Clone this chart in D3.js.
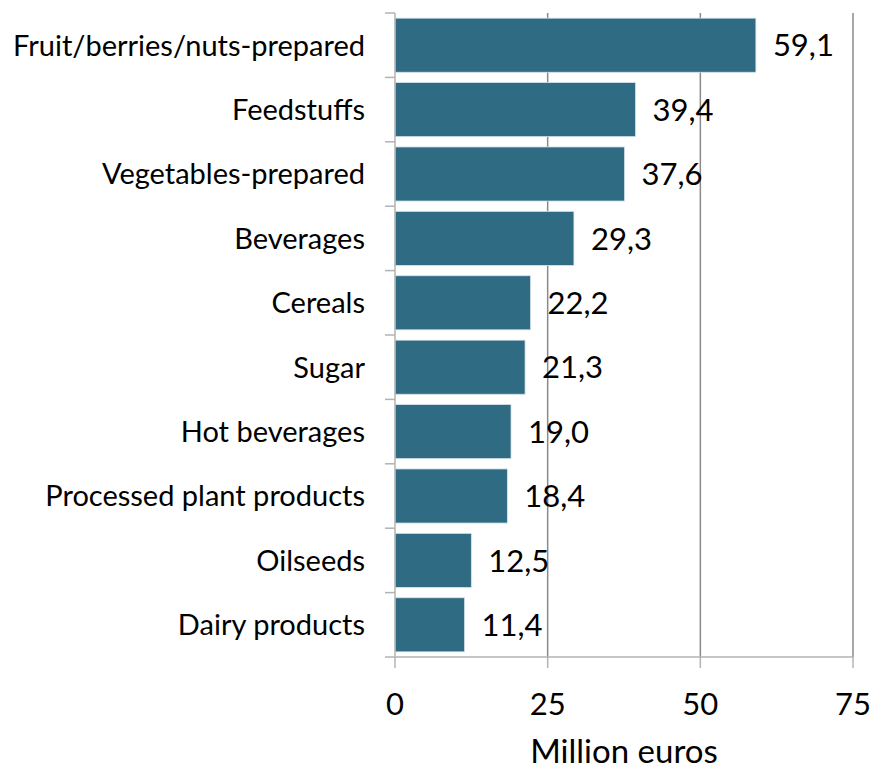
<!DOCTYPE html>
<html>
<head>
<meta charset="utf-8">
<script src="https://cdn.jsdelivr.net/npm/d3@7"></script>
<style>
  html, body { margin: 0; padding: 0; background: #ffffff; }
  svg { display: block; }
  text { font-family: Lato, "Open Sans", sans-serif; fill: #000; }
</style>
</head>
<body>
<script>
// Product groups and their values (million euros)
const categories = [
  "Fruit/berries/nuts-prepared",
  "Feedstuffs",
  "Vegetables-prepared",
  "Beverages",
  "Cereals",
  "Sugar",
  "Hot beverages",
  "Processed plant products",
  "Oilseeds",
  "Dairy products"
];
const values = [59.1, 39.4, 37.6, 29.3, 22.2, 21.3, 19.0, 18.4, 12.5, 11.4];
const xTicks = [0, 25, 50, 75];
const xTitle = "Million euros";

const width = 874, height = 771;
const margin = { top: 13, right: 21, bottom: 114, left: 395 };

const svg = d3.select("body").append("svg")
  .attr("width", width)
  .attr("height", height);

const x = d3.scaleLinear()
  .domain([0, 75])
  .range([margin.left, width - margin.right]);

const y = d3.scaleBand()
  .domain(categories)
  .range([margin.top, height - margin.bottom])
  .paddingInner(0.16)
  .paddingOuter(0.08);

const plotTop = margin.top, plotBottom = height - margin.bottom;

// vertical gridlines
svg.append("g")
  .selectAll("line")
  .data(xTicks.filter(d => d > 0))
  .join("line")
  .attr("x1", d => x(d)).attr("x2", d => x(d))
  .attr("y1", plotTop).attr("y2", plotBottom)
  .attr("stroke", "#8a8a8a")
  .attr("stroke-width", 1.5);

// bars
svg.append("g")
  .selectAll("rect")
  .data(values)
  .join("rect")
  .attr("x", x(0))
  .attr("y", (d, i) => y(categories[i]))
  .attr("width", d => x(d) - x(0))
  .attr("height", y.bandwidth())
  .attr("fill", "#2f6c84")
  .attr("stroke", "#d6e4ea")
  .attr("stroke-width", 0.8);

// value labels
const fmt = v => v.toFixed(1).replace(".", ",");
svg.append("g")
  .selectAll("text")
  .data(values)
  .join("text")
  .attr("x", d => x(d) + 17)
  .attr("y", (d, i) => y(categories[i]) + y.bandwidth() / 2)
  .attr("dy", "0.36em")
  .attr("font-size", 31)
  .text(d => fmt(d));

// y axis (category axis) with ticks on band boundaries
const yAxis = svg.append("g");
yAxis.append("line")
  .attr("x1", x(0)).attr("x2", x(0))
  .attr("y1", plotTop).attr("y2", plotBottom)
  .attr("stroke", "#b3b3b3").attr("stroke-width", 1.5);
const boundaries = d3.range(categories.length + 1)
  .map(i => plotTop + i * (plotBottom - plotTop) / categories.length);
yAxis.selectAll("line.tick")
  .data(boundaries)
  .join("line")
  .attr("class", "tick")
  .attr("x1", x(0) - 10).attr("x2", x(0))
  .attr("y1", d => d).attr("y2", d => d)
  .attr("stroke", "#b3b3b3").attr("stroke-width", 1.5);
yAxis.selectAll("text")
  .data(categories)
  .join("text")
  .attr("x", x(0) - 30)
  .attr("y", d => y(d) + y.bandwidth() / 2)
  .attr("dy", "0.36em")
  .attr("text-anchor", "end")
  .attr("font-size", 29)
  .text(d => d);

// x axis
const xAxis = svg.append("g");
xAxis.append("line")
  .attr("x1", x(0)).attr("x2", x(75))
  .attr("y1", plotBottom).attr("y2", plotBottom)
  .attr("stroke", "#b3b3b3").attr("stroke-width", 1.5);
xAxis.selectAll("line.tick")
  .data(xTicks)
  .join("line")
  .attr("class", "tick")
  .attr("x1", d => x(d)).attr("x2", d => x(d))
  .attr("y1", plotBottom).attr("y2", plotBottom + 11)
  .attr("stroke", "#b3b3b3").attr("stroke-width", 1.5);
xAxis.selectAll("text")
  .data(xTicks)
  .join("text")
  .attr("x", d => x(d))
  .attr("y", 715)
  .attr("text-anchor", "middle")
  .attr("font-size", 31)
  .text(d => d);

svg.append("text")
  .attr("x", (x(0) + x(75)) / 2)
  .attr("y", 763)
  .attr("text-anchor", "middle")
  .attr("font-size", 33)
  .text(xTitle);
</script>
</body>
</html>
